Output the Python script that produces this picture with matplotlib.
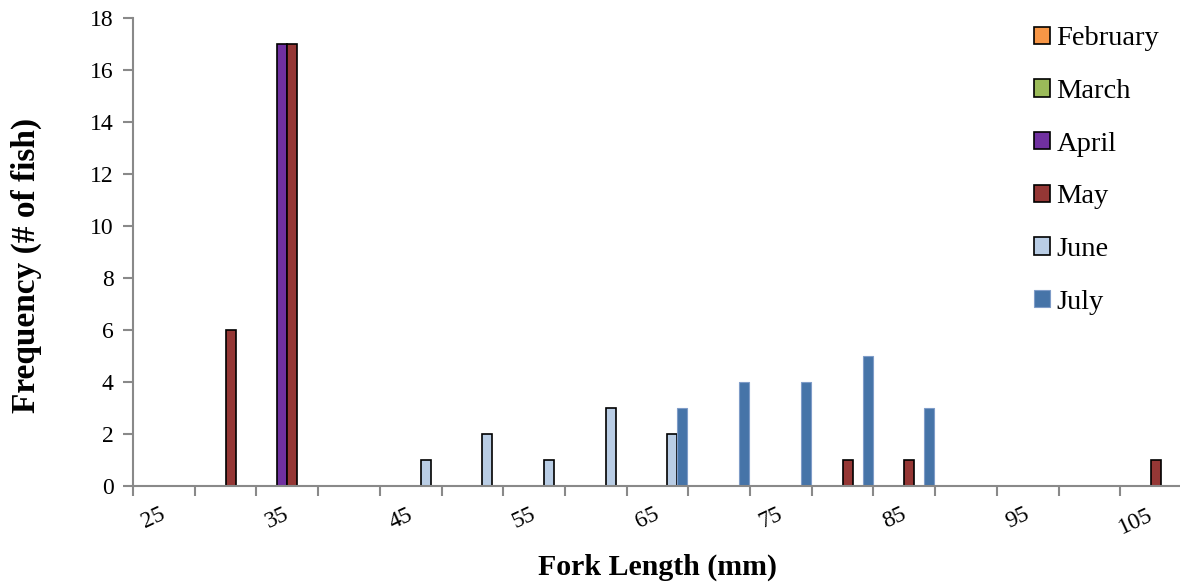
import matplotlib.pyplot as plt
from matplotlib.patches import Patch
from matplotlib.transforms import ScaledTranslation
import numpy as np

# fork length bins (mm) and monthly counts
lengths = [25, 30, 35, 40, 45, 50, 55, 60, 65, 70, 75, 80, 85, 90, 95, 100, 105]
months = ['February', 'March', 'April', 'May', 'June', 'July']
feb = [0, 0, 0, 0, 0, 0, 0, 0, 0, 0, 0, 0, 0, 0, 0, 0, 0]
mar = [0, 0, 0, 0, 0, 0, 0, 0, 0, 0, 0, 0, 0, 0, 0, 0, 0]
apr = [0, 0, 17, 0, 0, 0, 0, 0, 0, 0, 0, 0, 0, 0, 0, 0, 0]
may = [0, 6, 17, 0, 0, 0, 0, 0, 0, 0, 0, 1, 1, 0, 0, 0, 1]
jun = [0, 0, 0, 0, 1, 2, 1, 3, 2, 0, 0, 0, 0, 0, 0, 0, 0]
jul = [0, 0, 0, 0, 0, 0, 0, 0, 3, 4, 4, 5, 3, 0, 0, 0, 0]

colors = ['#F79646', '#9BBB59', '#7030A0', '#953735', '#B9CDE5', '#4674A8']
edges = ['black', 'black', 'black', 'black', 'black', '#7F9CC8']

plt.rcParams['font.family'] = ['Liberation Serif', 'DejaVu Serif']

fig = plt.figure(figsize=(11.8, 5.85), dpi=100)
ax = fig.add_axes([133 / 1180, 1 - 486 / 585, 1049 / 1180, 468 / 585])

x = np.arange(len(lengths))
w = 0.162
for i, vals in enumerate([feb, mar, apr, may, jun, jul]):
    vals = np.array(vals)
    keep = vals > 0
    ax.bar(x[keep] + (i - 2.5) * w, vals[keep], width=w,
           color=colors[i], edgecolor=edges[i],
           linewidth=1.2 if i < 5 else 0.8)

ax.set_xlim(-0.5, len(lengths) - 0.5)
ax.set_ylim(0, 18)
ax.set_yticks(np.arange(0, 19, 2))

# labels on every other bin, tick marks on bin boundaries
ax.set_xticks(x[::2])
ax.set_xticklabels([str(v) for v in lengths[::2]], rotation=25,
                   ha='right', rotation_mode='anchor')
ax.set_xticks(np.arange(-0.5, len(lengths), 1), minor=True)
ax.tick_params(axis='x', which='major', length=0, pad=13, labelsize=17)
ax.tick_params(axis='x', which='minor', length=7, width=1.5, color='#898989')
ax.tick_params(axis='y', length=7, width=1.5, color='#898989', labelsize=17,
               pad=7)
shift = ScaledTranslation(-4 / 100, 0, fig.dpi_scale_trans)
for lab in ax.get_xticklabels():
    lab.set_transform(lab.get_transform() + shift)

for s in ['top', 'right']:
    ax.spines[s].set_visible(False)
for s in ['left', 'bottom']:
    ax.spines[s].set_color('#898989')
    ax.spines[s].set_linewidth(1.5)

ax.set_xlabel('Fork Length (mm)', fontsize=21.5, fontweight='bold')
ax.set_ylabel('Frequency (# of fish)', fontsize=24, fontweight='bold')
ax.xaxis.set_label_coords(0.5, (486 - 554) / 468)
ax.yaxis.set_label_coords((42 - 133) / 1049, (486 - 265) / 468)

handles = [Patch(facecolor=colors[i], edgecolor=edges[i],
                 linewidth=1.2 if i < 5 else 0.8) for i in range(6)]
ax.legend(handles, months, loc='upper left', bbox_to_anchor=(0.859, 0.982),
          frameon=False, fontsize=20.5, handlelength=0.56, handleheight=0.56,
          handletextpad=0.22, labelspacing=0.97, borderaxespad=0,
          borderpad=0)

fig.savefig('out.png', dpi=100)
